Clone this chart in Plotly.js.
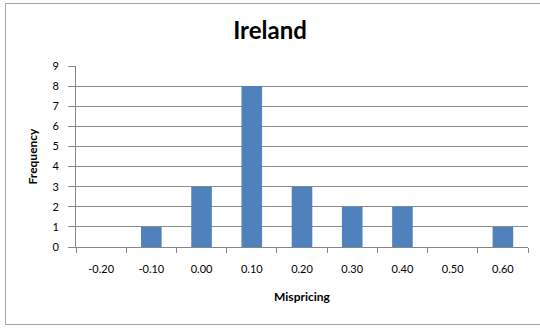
<!DOCTYPE html>
<html><head><meta charset="utf-8">
<script src="https://cdn.plot.ly/plotly-3.0.1.min.js"></script>
<style>
html,body{margin:0;padding:0;background:#fff;}
#wrap{position:relative;width:540px;height:329px;overflow:hidden;}
#frame{position:absolute;left:5px;top:3px;width:600px;height:322px;border:1px solid #a6a6a6;box-sizing:border-box;pointer-events:none;z-index:5;}
#chart{position:absolute;left:0;top:0;width:540px;height:329px;}
</style>
</head><body>
<div id="wrap"><div id="chart"></div><div id="frame"></div></div>
<script>
const categories = ["-0.20","-0.10","0.00","0.10","0.20","0.30","0.40","0.50","0.60"];
const frequency = [0,1,3,8,3,2,2,0,1];
const yTicks = [0,1,2,3,4,5,6,7,8,9];

const font = "Lato, 'Open Sans', 'DejaVu Sans', sans-serif";
Plotly.newPlot('chart', [{
  type: 'bar',
  x: categories,
  y: frequency,
  marker: {color: '#4F81BD'},
  hoverinfo: 'skip'
}], {
  width: 540, height: 329,
  margin: {l: 76, r: 12, t: 66, b: 82, pad: 0},
  paper_bgcolor: '#fff', plot_bgcolor: '#fff',
  bargap: 0.59,
  showlegend: false,
  title: {text: '<b>Ireland</b>', font: {family: font, size: 24, color: '#000'}, x: 0.5, xanchor: 'center', y: 0.907, yanchor: 'middle'},
  xaxis: {
    type: 'category',
    title: {text: '<b>Mispricing</b>', font: {family: font, size: 12, color: '#000'}, standoff: 18},
    tickfont: {family: font, size: 11, color: '#000'},
    showline: true, linecolor: '#868686', linewidth: 1,
    ticks: 'outside', ticklen: 5, tickcolor: '#868686', tickson: 'boundaries',
    showgrid: false, zeroline: false, fixedrange: true,
    ticklabelstandoff: 12
  },
  yaxis: {
    range: [0, 9],
    tickvals: yTicks,
    title: {text: '<b>Frequency</b>', font: {family: font, size: 12, color: '#000'}, standoff: 12},
    tickfont: {family: font, size: 11, color: '#000'},
    showline: true, linecolor: '#868686', linewidth: 1,
    ticks: 'outside', ticklen: 7, tickcolor: '#868686',
    ticklabelstandoff: 7,
    showgrid: true, gridcolor: '#8c8c8c', gridwidth: 1,
    zeroline: false, fixedrange: true
  }
}, {displayModeBar: false, staticPlot: true});
</script>
</body></html>
